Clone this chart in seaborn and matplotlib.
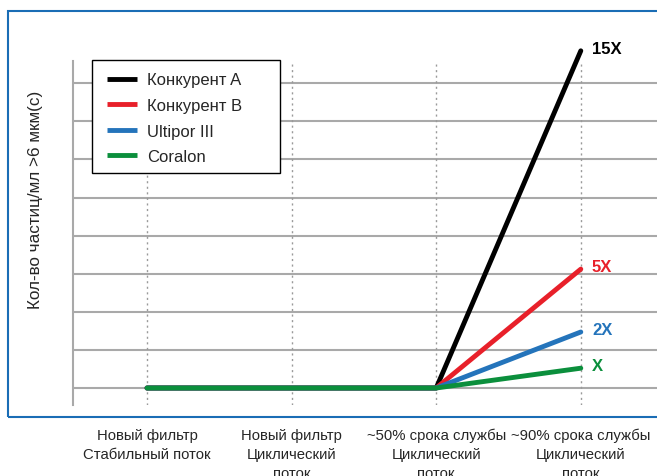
import numpy as np
import pandas as pd
import matplotlib
matplotlib.use("Agg")
import matplotlib.pyplot as plt
from matplotlib.patches import Rectangle
from matplotlib.lines import Line2D
import seaborn as sns

# --- data -----------------------------------------------------------------
stages = [
    "Новый фильтр\nСтабильный поток",
    "Новый фильтр\nЦиклический\nпоток",
    "~50% срока службы\nЦиклический\nпоток",
    "~90% срока службы\nЦиклический\nпоток",
]
series_names = ["Конкурент A", "Конкурент B", "Ultipor III", "Coralon"]
konk_a = [1.0, 1.0, 1.0, 9.85]
konk_b = [1.0, 1.0, 1.0, 4.12]
ultipor = [1.0, 1.0, 1.0, 2.47]
coralon = [1.0, 1.0, 1.0, 1.52]
end_labels = ["15X", "5X", "2X", "X"]
colors = ["#000000", "#e8202a", "#2474bb", "#0b8f3c"]
grid_levels = list(range(1, 10))
y_label = "Кол-во частиц/мл >6 мкм(с)"

values = [konk_a, konk_b, ultipor, coralon]
df = pd.DataFrame({
    "stage": np.tile(np.arange(len(stages)), len(series_names)),
    "value": np.concatenate(values),
    "series": np.repeat(series_names, len(stages)),
})

sns.set_style("white")
plt.rcParams["font.family"] = ["Liberation Sans", "DejaVu Sans"]

W, H = 657, 477
fig = plt.figure(figsize=(W / 100, H / 100), dpi=100)
ax = fig.add_axes([73 / W, (H - 406) / H, 1 - 73 / W, (406 - 40) / H])

y_bot, y_top, spine_top = 0.554, 10.16, 9.58
ax.set_xlim(-0.512, 3.527)
ax.set_ylim(y_bot, y_top)

grid_col = "#a9a9a9"
for g in grid_levels:
    ax.axhline(g, color=grid_col, lw=1.5, zorder=1)
for i in range(len(stages)):
    ax.vlines(i, y_bot, spine_top, color="#9a9a9a", lw=1.0,
              linestyles=(0, (1.5, 2.5)), zorder=1)

sns.lineplot(data=df, x="stage", y="value", hue="series",
             hue_order=series_names, palette=colors, linewidth=3.5,
             legend=False, ax=ax, zorder=3,
             solid_capstyle="round")

for name, vals, lab, c in zip(series_names, values, end_labels, colors):
    ax.annotate(lab, (len(stages) - 1, vals[-1]), xytext=(8, 2),
                textcoords="offset points", color=c, fontsize=12,
                fontweight="bold", va="center", ha="left")

for s in ["top", "right", "bottom"]:
    ax.spines[s].set_visible(False)
ax.spines["left"].set_color(grid_col)
ax.spines["left"].set_linewidth(1.5)
ax.spines["left"].set_bounds(y_bot, spine_top)

ax.set_yticks(grid_levels)
ax.set_yticklabels([])
ax.tick_params(axis="y", length=4.3, width=1.5, color=grid_col, direction="out")
ax.set_xticks(range(len(stages)))
ax.set_xticklabels(stages, fontsize=10.7, linespacing=1.45)
ax.tick_params(axis="x", length=0, pad=16.5)
ax.set_xlabel("")
ax.set_ylabel("")

fig.text(36 / W, 1 - 200 / H, y_label, rotation=90, fontsize=12.3,
         ha="center", va="center")

# legend: content without frame, frame drawn as its own box behind it
handles = [Line2D([], [], color=c, lw=3.5, solid_capstyle="butt") for c in colors]
leg = ax.legend(handles, series_names, loc="upper left",
                bbox_to_anchor=(107 / W, 1 - 73.5 / H),
                bbox_transform=fig.transFigure, borderaxespad=0,
                fontsize=12, handlelength=1.8, handletextpad=0.6,
                labelspacing=0.63, borderpad=0, frameon=False)
leg.set_zorder(6)
ax.add_patch(Rectangle((92 / W, 1 - 174 / H), (280 - 92) / W, (174 - 61) / H,
                       transform=fig.transFigure, facecolor="white",
                       edgecolor="black", lw=1.0, zorder=5, clip_on=False))

fig.patches.append(Rectangle((8 / W, (H - 418) / H), 1.0, (418 - 12) / H,
                             transform=fig.transFigure, fill=False,
                             edgecolor="#1a6db5", lw=1.5, zorder=0))

fig.savefig("out.png", dpi=100)
